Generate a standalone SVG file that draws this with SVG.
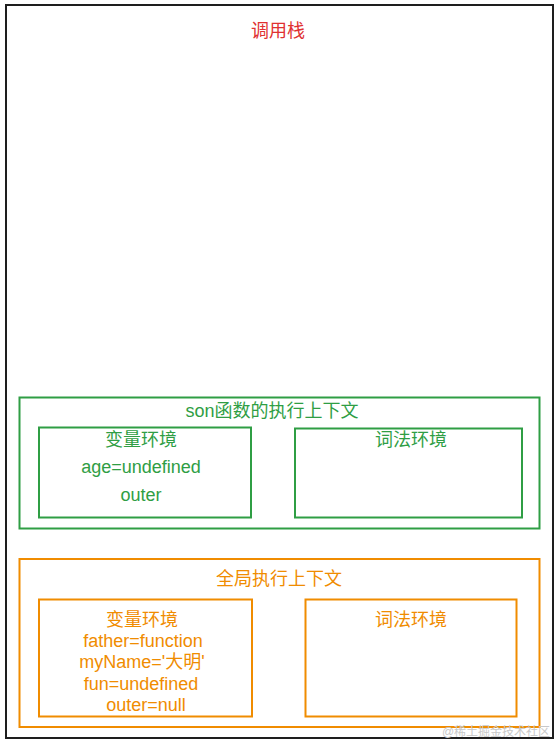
<svg xmlns="http://www.w3.org/2000/svg" width="557" height="741" viewBox="0 0 557 741">
<style>
text{font-family:"Liberation Sans","Noto Sans CJK SC",sans-serif;font-size:18px;text-anchor:middle}
.g{fill:none;stroke:#2f9e44;stroke-width:2}
.o{fill:none;stroke:#f08c00;stroke-width:2}
.gt{fill:#2f9e44}
.ot{fill:#f08c00}
</style>
<rect width="557" height="741" fill="#fff"/>
<g id="stack">
<rect x="6" y="5" width="547" height="733" fill="none" stroke="#1e1e1e" stroke-width="2"/>
<text x="278" y="37" fill="#e03131">调用栈</text>
</g>
<g id="son-ctx">
<rect class="g" x="19.5" y="397.5" width="520" height="131"/>
<text class="gt" x="272" y="417">son函数的执行上下文</text>
</g>
<g id="son-var">
<rect class="g" x="39" y="427.5" width="212" height="90"/>
<text class="gt" x="141" y="446">变量环境</text>
<text class="gt" x="141" y="473">age=undefined</text>
<text class="gt" x="141" y="501">outer</text>
</g>
<g id="son-lex">
<rect class="g" x="295" y="428.5" width="227" height="89"/>
<text class="gt" x="411" y="446">词法环境</text>
</g>
<g id="global-ctx">
<rect class="o" x="19.5" y="559" width="520" height="168"/>
<text class="ot" x="279" y="585">全局执行上下文</text>
</g>
<g id="global-var">
<rect class="o" x="39" y="599.5" width="213" height="117"/>
<text class="ot" x="142" y="626">变量环境</text>
<text class="ot" x="143" y="647">father=function</text>
<text class="ot" x="142" y="668">myName='大明'</text>
<text class="ot" x="141" y="690">fun=undefined</text>
<text class="ot" x="146" y="711">outer=null</text>
</g>
<g id="global-lex">
<rect class="o" x="305.5" y="599.5" width="211" height="117"/>
<text class="ot" x="411" y="626">词法环境</text>
</g>
<g id="connectors"></g>
<text x="496" y="736" style="font-size:12px;fill:#c8c8c8">@稀土掘金技术社区</text>
</svg>
